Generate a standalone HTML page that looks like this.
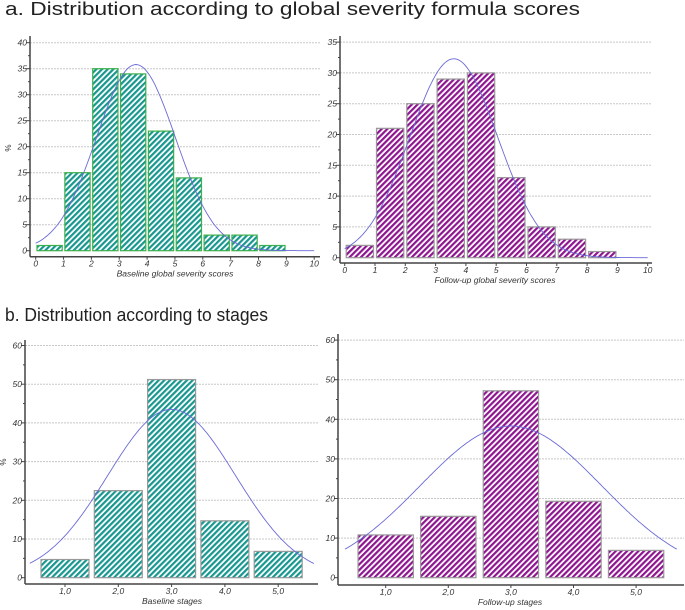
<!DOCTYPE html>
<html><head><meta charset="utf-8"><style>
html,body{margin:0;padding:0;background:#fff;}
svg{display:block;font-family:"Liberation Sans",sans-serif;}
</style></head><body>
<svg id="fig" width="685" height="610" viewBox="0 0 685 610">
<defs>
<pattern id="hTeal" patternUnits="userSpaceOnUse" width="4" height="4" patternTransform="rotate(45)">
<rect width="4" height="4" fill="#fff"/><rect width="2.2" height="4" fill="#17978f"/></pattern>
<pattern id="hMag" patternUnits="userSpaceOnUse" width="4" height="4" patternTransform="rotate(45)">
<rect width="4" height="4" fill="#fff"/><rect width="2.2" height="4" fill="#8e1490"/></pattern>
</defs>
<text x="5" y="15" font-size="18.5" fill="#222" textLength="575" lengthAdjust="spacingAndGlyphs">a. Distribution according to global severity formula scores</text>
<text x="5" y="321" font-size="18.5" fill="#222" textLength="263" lengthAdjust="spacingAndGlyphs">b. Distribution according to stages</text>
</svg>
<script>
// Chart A-left: baseline global severity
const aCats = [0,1,2,3,4,5,6,7,8,9];
const aBaseVals = [1,15,35,34,23,14,3,3,1,0];
const aBaseTicks = [0,5,10,15,20,25,30,35,40];
const aXTicks = [0,1,2,3,4,5,6,7,8,9,10];
// Chart A-right: follow-up
const aFollowVals = [2,21,25,29,30,13,5,3,1,0];
const aFollowTicks = [0,5,10,15,20,25,30,35];
// Chart B: stages
const bCats = [1,2,3,4,5];
const bCatLabels = ["1,0","2,0","3,0","4,0","5,0"];
const bBaseVals = [4.7,22.5,51.2,14.7,6.8];
const bFollowVals = [10.8,15.5,47.2,19.3,6.9];
const bTicks = [0,10,20,30,40,50,60];
// normal curve params [mean, sd, peak]
const aBaseCurve = [3.6,1.42,35.8];
const aFollowCurve = [3.6,1.45,32.3];
const bBaseCurve = [3.0,1.2,43.5];
const bFollowCurve = [3.0,1.45,38.3];

const NS="http://www.w3.org/2000/svg";
const svg=document.getElementById('fig');
function el(tag,attrs,parent){const e=document.createElementNS(NS,tag);for(const k in attrs)e.setAttribute(k,attrs[k]);(parent||svg).appendChild(e);return e;}

function chart(cfg){
  const g=el('g',{});
  
  
  const X=v=>cfg.x0+(v-cfg.xv0)*cfg.xs;
  const Y=v=>cfg.y0-v*cfg.ys;
  cfg.yTicks.forEach(t=>{
    if(t>0){const l=el('line',{x1:cfg.axisX,x2:cfg.gridEnd,y1:Y(t),y2:Y(t),stroke:'#c8c8c8','stroke-width':1,'stroke-dasharray':'2,1'},g);
    }
    const tk=el('line',{x1:cfg.axisX-4,x2:cfg.axisX,y1:Y(t),y2:Y(t),stroke:'#444'},g);
    
    const tx=el('text',{x:cfg.axisX-3,y:Y(t)+3,'font-size':8.5,'font-style':'italic','text-anchor':'end',fill:'#333'},g);
    tx.textContent=t;
    
  });
  for(let i=0;i<cfg.yTicks.length-1;i++){const m=(cfg.yTicks[i]+cfg.yTicks[i+1])/2;
    const mt=el('line',{x1:cfg.axisX-2,x2:cfg.axisX,y1:Y(m),y2:Y(m),stroke:'#444'},g);
    }
  cfg.vals.forEach((v,i)=>{
    const c=cfg.cats[i];
    const x1=X(c+cfg.barOff)+cfg.gap, x2=X(c+cfg.barOff+cfg.barW)-cfg.gap;
    if(v<=0)return;
    const r=el('rect',{x:x1,y:Y(v),width:x2-x1,height:Y(0)-Y(v),fill:cfg.fill,stroke:cfg.stroke,'stroke-width':1.2},g);
    
    
  });
  const [mu,sd,pk]=cfg.curve;let d='';
  for(let k=0;k<=200;k++){const xv=cfg.cx0+(cfg.cx1-cfg.cx0)*k/200;const yv=pk*Math.exp(-((xv-mu)**2)/(2*sd*sd));
    d+=(k?'L':'M')+X(xv).toFixed(1)+','+Y(yv).toFixed(1);}
  const p=el('path',{d:d,fill:'none',stroke:'#6a6ad8','stroke-width':0.9},g);
  
  const ya=el('line',{x1:cfg.axisX,x2:cfg.axisX,y1:cfg.axisTop,y2:cfg.axisBottom,stroke:'#444','stroke-width':1.5},g);
  
  const xa=el('line',{x1:cfg.axisX,x2:cfg.gridEnd,y1:cfg.axisBottom,y2:cfg.axisBottom,stroke:'#444','stroke-width':1.5},g);
  
  cfg.xTicks.forEach((t,i)=>{
    const tk=el('line',{x1:X(t),x2:X(t),y1:cfg.axisBottom,y2:cfg.axisBottom+3,stroke:'#444'},g);
    
    const tx=el('text',{x:X(t),y:cfg.axisBottom+10,'font-size':8.5,'font-style':'italic','text-anchor':'middle',fill:'#333'},g);
    tx.textContent=cfg.xLabels?cfg.xLabels[i]:t;
    
  });
  const xt=el('text',{x:cfg.titleX,y:cfg.axisBottom+20,'font-size':8.5,'font-style':'italic','text-anchor':'middle',fill:'#333'},g);
  xt.textContent=cfg.xTitle;
  
  if(cfg.yTitle){const yt=el('text',{x:0,y:0,'font-size':8,'text-anchor':'middle',fill:'#333',transform:`translate(${cfg.yTitleX},${cfg.yTitleY}) rotate(-90)`},g);
    yt.textContent='%';}
}

chart({name:'chart-baseline-severity',cats:aCats,vals:aBaseVals,yTicks:aBaseTicks,xTicks:aXTicks,
  x0:35.7,xv0:0,xs:27.85,y0:250.7,ys:5.2,axisX:30,axisTop:36,axisBottom:256.7,gridEnd:320,
  barOff:0,barW:1,gap:1.3,fill:'url(#hTeal)',stroke:'#3cb04a',curve:aBaseCurve,cx0:0,cx1:10,
  xTitle:'Baseline global severity scores',titleX:175,yTitle:true,yTitleX:11,yTitleY:148});
chart({name:'chart-followup-severity',cats:aCats,vals:aFollowVals,yTicks:aFollowTicks,xTicks:aXTicks,
  x0:344.7,xv0:0,xs:30.3,y0:257.7,ys:6.16,axisX:340,axisTop:36,axisBottom:263,gridEnd:652,
  barOff:0,barW:1,gap:1.5,fill:'url(#hMag)',stroke:'#999',curve:aFollowCurve,cx0:0,cx1:10,
  xTitle:'Follow-up global severity scores',titleX:495,yTitle:false});
chart({name:'chart-baseline-stages',cats:bCats,vals:bBaseVals,yTicks:bTicks,xTicks:bCats,xLabels:bCatLabels,
  x0:65,xv0:1,xs:53.3,y0:577.7,ys:3.87,axisX:25,axisTop:340,axisBottom:584,gridEnd:318,
  barOff:-0.45,barW:0.9,gap:0,fill:'url(#hTeal)',stroke:'#999',curve:bBaseCurve,cx0:0.34,cx1:5.67,
  xTitle:'Baseline stages',titleX:172,yTitle:true,yTitleX:6,yTitleY:462});
chart({name:'chart-followup-stages',cats:bCats,vals:bFollowVals,yTicks:bTicks,xTicks:bCats,xLabels:bCatLabels,
  x0:385.7,xv0:1,xs:62.6,y0:577.7,ys:3.96,axisX:338,axisTop:334,axisBottom:585,gridEnd:684,
  barOff:-0.45,barW:0.9,gap:0.5,fill:'url(#hMag)',stroke:'#999',curve:bFollowCurve,cx0:0.35,cx1:5.65,
  xTitle:'Follow-up stages',titleX:510,yTitle:false});
</script>
</body></html>
